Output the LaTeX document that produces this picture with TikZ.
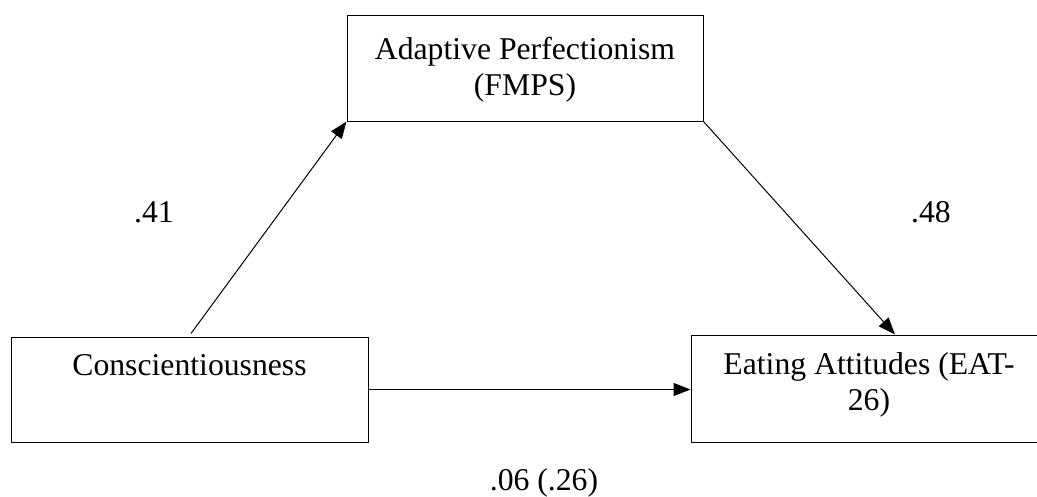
\documentclass[tikz,border=0pt]{standalone}
\usepackage{fontspec}
\setmainfont{Liberation Serif}
\usetikzlibrary{arrows.meta}
\tikzset{
  box/.style={draw,line width=1pt,minimum width=356pt,minimum height=106pt,inner sep=0pt},
  boxtext/.style={anchor=north,align=center,inner sep=0pt,font=\fontsize{31.7}{36}\selectfont},
  coef/.style={inner sep=0pt,font=\fontsize{31.7}{36}\selectfont},
  path/.style={line width=1pt,-{Triangle[length=17pt,width=13pt]}}
}
\begin{document}
\begin{tikzpicture}[x=1pt,y=-1pt]
\useasboundingbox (0,0) rectangle (1037,496);
\node[box] (fmps) at (525,68) {};
\node[box,minimum width=357pt,minimum height=105pt] (cons) at (189.5,389.5) {};
\node[box,minimum height=107pt] (eat) at (869,388.5) {};
\node[boxtext,yshift=-22pt] (fmpstext) at (fmps.north) {Adaptive Perfectionism\\(FMPS)};
\node[boxtext,yshift=-18pt] (constext) at (cons.north) {Conscientiousness};
\node[boxtext,yshift=-18pt] (eattext) at (eat.north) {Eating Attitudes (EAT-\\26)};
\draw[path] ([xshift=1.5pt,yshift=3pt]cons.north) -- (fmps.south west);
\draw[path] (fmps.south east) -- ([xshift=26pt]eat.north);
\draw[path] (cons.east) -- (cons.east -| eat.west);
\node[coef] (a) at (154,212) {.41};
\node[coef] (b) at (931,212) {.48};
\node[coef] (c) at (544,483) {.06 (.26)};
\end{tikzpicture}
\end{document}
